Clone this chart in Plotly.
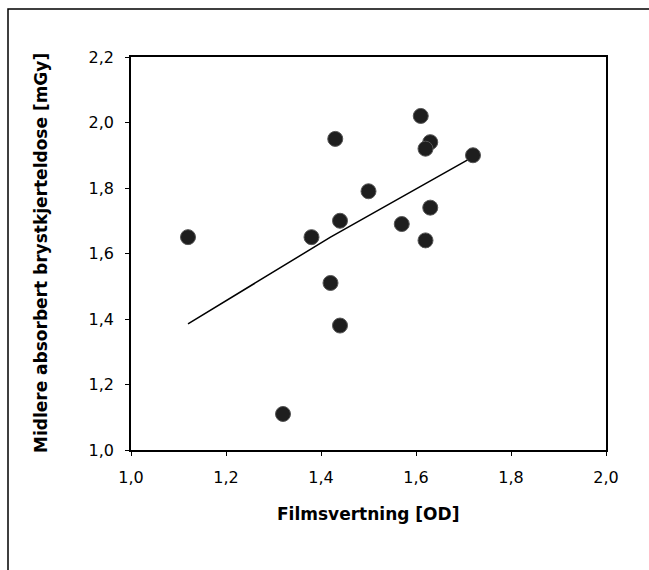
import plotly.graph_objects as go

# Data
film_od = [1.12, 1.32, 1.38, 1.42, 1.43, 1.44, 1.44, 1.50, 1.57, 1.61, 1.62, 1.63, 1.63, 1.62, 1.72]
dose_mgy = [1.65, 1.11, 1.65, 1.51, 1.95, 1.70, 1.38, 1.79, 1.69, 2.02, 1.64, 1.74, 1.94, 1.92, 1.90]

trend_x = [1.12, 1.42, 1.72]
trend_y = [1.385, 1.65, 1.895]

x_ticks = [1.0, 1.2, 1.4, 1.6, 1.8, 2.0]
y_ticks = [1.0, 1.2, 1.4, 1.6, 1.8, 2.0, 2.2]

x_title = "Filmsvertning [OD]"
y_title = "Midlere absorbert brystkjerteldose [mGy]"

fig = go.Figure()
fig.add_trace(go.Scatter(x=trend_x, y=trend_y, mode="lines",
                         line=dict(color="black", width=1.5), showlegend=False))
fig.add_trace(go.Scatter(x=film_od, y=dose_mgy, mode="markers",
                         marker=dict(size=15, color="#1e1e1e",
                                     line=dict(color="#555", width=1)),
                         showlegend=False))

W, H = 649, 570
ml, mr, mt, mb = 131, 43, 57, 120
pw, ph = W - ml - mr, H - mt - mb

def px_x(p):
    return (p - ml) / pw

def px_y(p):
    return (H - mb - p) / ph

# outer frame (only left and top edges visible in the reference)
fig.add_shape(type="rect", xref="paper", yref="paper",
              x0=px_x(8), x1=px_x(700), y0=px_y(600), y1=px_y(9),
              line=dict(color="black", width=1.5), layer="below")

tick_font = dict(family="DejaVu Sans, Liberation Sans, Arial, sans-serif", size=16, color="black")
title_font = dict(family="DejaVu Sans, Liberation Sans, Arial, sans-serif", size=17, color="black")

fig.add_annotation(text="<b>" + x_title + "</b>", xref="paper", yref="paper",
                   x=px_x(368), y=px_y(514), xanchor="center", yanchor="middle",
                   showarrow=False, font=title_font)
fig.add_annotation(text="<b>" + y_title + "</b>", xref="paper", yref="paper",
                   x=px_x(41), y=px_y(253), xanchor="center", yanchor="middle",
                   textangle=-90, showarrow=False, font=title_font)

fig.update_layout(
    width=W, height=H,
    margin=dict(l=ml, r=mr, t=mt, b=mb),
    paper_bgcolor="white", plot_bgcolor="white",
    separators=",.",
    xaxis=dict(range=[1.0, 2.0], tickvals=x_ticks, tickformat=".1f",
               showgrid=False, zeroline=False, showline=True, mirror=True,
               linecolor="black", linewidth=1.5, ticks="outside", ticklen=4,
               tickcolor="black", tickfont=tick_font, ticklabelstandoff=8),
    yaxis=dict(range=[1.0, 2.2], tickvals=y_ticks, tickformat=".1f",
               showgrid=False, zeroline=False, showline=True, mirror=True,
               linecolor="black", linewidth=1.5, ticks="outside", ticklen=4,
               tickcolor="black", tickfont=tick_font, ticklabelstandoff=8),
)

fig.write_html("out.html")
